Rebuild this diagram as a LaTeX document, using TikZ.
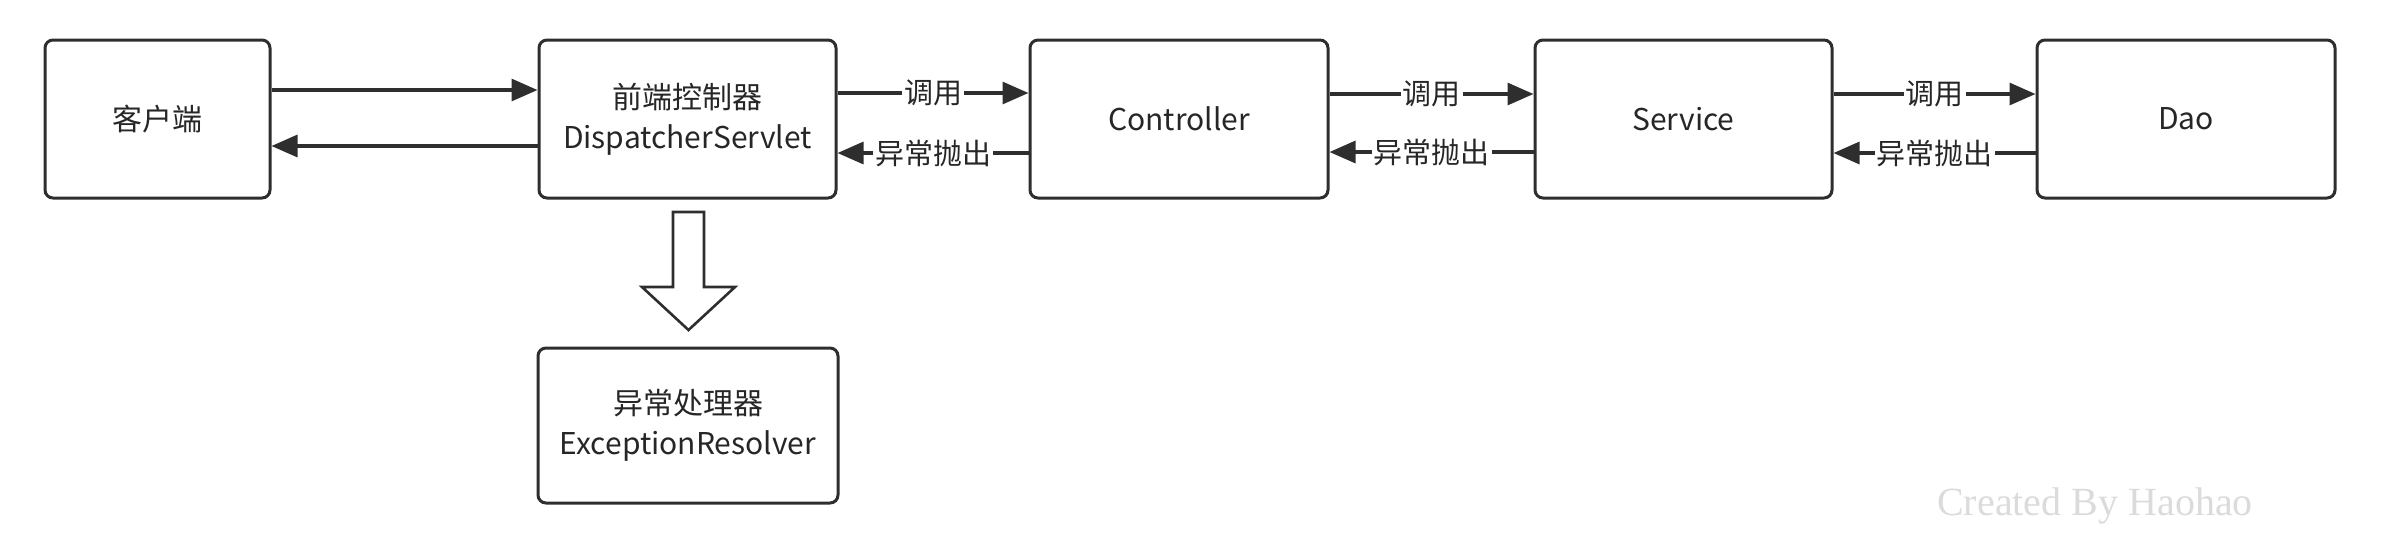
\documentclass[tikz,border=0pt]{standalone}
\usepackage{fontspec}
\setmainfont{Noto Sans CJK SC}
\newfontfamily\wmfont{Liberation Serif}
\usetikzlibrary{arrows.meta}
\definecolor{ln}{HTML}{2E2E2E}
\definecolor{tx}{HTML}{262626}
\tikzset{
  box/.style={draw=ln, line width=1.5pt, rounded corners=4pt, minimum height=79pt,
    align=center, text=tx, font=\fontsize{15pt}{20pt}\selectfont, inner sep=0pt},
  conn/.style={draw=ln, line width=1.6pt, -{Triangle[length=13pt,width=11pt]}},
  lbl/.style={fill=white, inner sep=1pt, text=tx, font=\fontsize{14.5pt}{18pt}\selectfont}
}
\begin{document}
\begin{tikzpicture}[x=0.5pt,y=-0.5pt]
\useasboundingbox (0,0) rectangle (2404,554);
\node[box, minimum width=112.5pt] (client) at (157.5,119) {客户端};
\node[box, minimum width=148.5pt] (ds) at (687.5,119) {前端控制器\\DispatcherServlet};
\node[box, minimum width=149pt] (ctrl) at (1179,119) {Controller};
\node[box, minimum width=148.5pt] (svc) at (1683.5,119) {Service};
\node[box, minimum width=149pt] (dao) at (2186,119) {Dao};
\node[box, minimum width=150pt, minimum height=77.5pt] (er) at (688,425.5) {异常处理器\\ExceptionResolver};

\draw[conn] ([yshift=14.5pt]client.east) -- ([yshift=14.5pt]ds.west);
\draw[conn] ([yshift=-13.5pt]ds.west) -- ([yshift=-13.5pt]client.east);

\draw[conn] ([yshift=13pt]ds.east) -- node[lbl] {调用} ([yshift=13pt]ctrl.west);
\draw[conn] ([yshift=-17pt]ctrl.west) -- node[lbl] {异常抛出} ([yshift=-17pt]ds.east);
\draw[conn] ([yshift=12.5pt]ctrl.east) -- node[lbl] {调用} ([yshift=12.5pt]svc.west);
\draw[conn] ([yshift=-16.5pt]svc.west) -- node[lbl] {异常抛出} ([yshift=-16.5pt]ctrl.east);
\draw[conn] ([yshift=12.5pt]svc.east) -- node[lbl] {调用} ([yshift=12.5pt]dao.west);
\draw[conn] ([yshift=-17pt]dao.west) -- node[lbl] {异常抛出} ([yshift=-17pt]svc.east);

\draw[ln, line width=1.3pt, line join=miter, fill=white]
  (673,212) -- (704,212) -- (704,287) -- (735,287) -- (688.5,330) -- (642,287) -- (673,287) -- cycle;

\node[text=black!14, font=\wmfont\fontsize{20pt}{24pt}\selectfont, inner sep=0pt] (wm) at (2095,506) {Created By Haohao};
\end{tikzpicture}
\end{document}
